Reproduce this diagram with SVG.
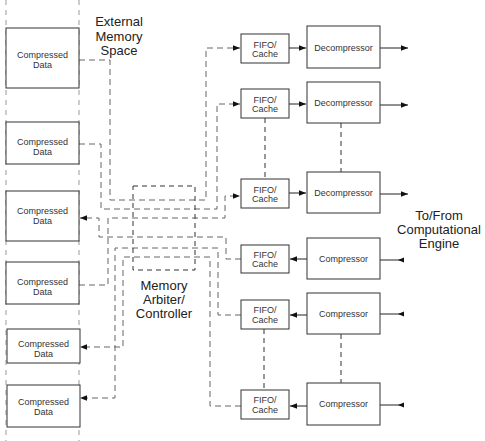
<svg xmlns="http://www.w3.org/2000/svg" width="485" height="441" viewBox="0 0 485 441">
<style>
.box{fill:#fff;stroke:#333;stroke-width:1}
.t{font-family:"Liberation Sans",Arial,sans-serif;font-size:9px;fill:#333;text-anchor:middle}
.big{font-family:"Liberation Sans",Arial,sans-serif;font-size:13px;fill:#222;text-anchor:middle}
.d{fill:none;stroke:#666;stroke-width:1;stroke-dasharray:6,4}
.dk{fill:none;stroke:#333;stroke-width:1;stroke-dasharray:5,4}
.dl{fill:none;stroke:#999;stroke-width:1;stroke-dasharray:5,5}
.s{fill:none;stroke:#222;stroke-width:1}
.ah{fill:#111}
</style>
<defs>
<marker id="arr" viewBox="0 0 10 10" refX="10" refY="5" markerWidth="7" markerHeight="7" markerUnits="userSpaceOnUse" orient="auto"><path d="M0,1 L10,5 L0,9 z" class="ah"/></marker>
</defs>
<g id="memory-column">
<line class="dl" x1="6" y1="0" x2="6" y2="441"/>
<line class="dl" x1="79" y1="0" x2="79" y2="441"/>
</g>
<g id="connectors">
<path class="d" d="M79,60 H110 V200 H206 V48 H240" marker-end="url(#arr)"/>
<path class="d" d="M79,144 H101 V209 H217 V104 H240" marker-end="url(#arr)"/>
<path class="d" d="M241,259 H226 V237 H99 V218 H80" marker-end="url(#arr)"/>
<path class="d" d="M79,285 H108 V218 H225 V196 H240" marker-end="url(#arr)"/>
<path class="d" d="M241,315 H218 V248 H115 V398 H80" marker-end="url(#arr)"/>
<path class="d" d="M241,406 H210 V257 H123 V347 H80" marker-end="url(#arr)"/>
<line class="dk" x1="265" y1="118" x2="265" y2="179"/>
<line class="dk" x1="341" y1="123" x2="341" y2="172"/>
<line class="dk" x1="264" y1="329" x2="264" y2="390"/>
<line class="dk" x1="341" y1="334" x2="341" y2="383"/>
<rect class="dk" x="133" y="186" width="62" height="84"/>
<line class="s" x1="289" y1="48" x2="306" y2="48" marker-end="url(#arr)"/>
<line class="s" x1="289" y1="104" x2="306" y2="104" marker-end="url(#arr)"/>
<line class="s" x1="289" y1="193" x2="306" y2="193" marker-end="url(#arr)"/>
<line class="s" x1="307" y1="259" x2="290" y2="259" marker-end="url(#arr)"/>
<line class="s" x1="307" y1="315" x2="290" y2="315" marker-end="url(#arr)"/>
<line class="s" x1="307" y1="406" x2="290" y2="406" marker-end="url(#arr)"/>
<line class="s" x1="380" y1="48" x2="408" y2="48" marker-end="url(#arr)"/>
<line class="s" x1="380" y1="105" x2="408" y2="105" marker-end="url(#arr)"/>
<line class="s" x1="380" y1="194" x2="408" y2="194" marker-end="url(#arr)"/>
<line class="s" x1="380" y1="260" x2="404" y2="260"/>
<line class="s" x1="380" y1="314" x2="404" y2="314"/>
<line class="s" x1="380" y1="405" x2="404" y2="405"/>
<path class="ah" d="M398,260 L404,257.5 L404,262.5 z"/>
<path class="ah" d="M398,314 L404,311.5 L404,316.5 z"/>
<path class="ah" d="M398,405 L404,402.5 L404,407.5 z"/>
</g>
<g id="cd1"><rect class="box" x="6" y="28" width="73" height="60"/><text class="t" x="42.5" y="58">Compressed</text><text class="t" x="42.5" y="68">Data</text></g>
<g id="cd2"><rect class="box" x="6" y="122" width="73" height="42"/><text class="t" x="42.5" y="145">Compressed</text><text class="t" x="42.5" y="155">Data</text></g>
<g id="cd3"><rect class="box" x="6" y="191" width="73" height="50"/><text class="t" x="42.5" y="214">Compressed</text><text class="t" x="42.5" y="224">Data</text></g>
<g id="cd4"><rect class="box" x="6" y="262" width="73" height="42"/><text class="t" x="42.5" y="285">Compressed</text><text class="t" x="42.5" y="295">Data</text></g>
<g id="cd5"><rect class="box" x="7" y="329" width="73" height="34"/><text class="t" x="43.5" y="347">Compressed</text><text class="t" x="43.5" y="357">Data</text></g>
<g id="cd6"><rect class="box" x="7" y="385" width="73" height="42"/><text class="t" x="43.5" y="405">Compressed</text><text class="t" x="43.5" y="415">Data</text></g>
<g id="ext-label"><text class="big" x="119" y="26">External</text><text class="big" x="119" y="41">Memory</text><text class="big" x="119" y="55">Space</text></g>
<g id="arbiter-label"><text class="big" x="164" y="290">Memory</text><text class="big" x="164" y="304">Arbiter/</text><text class="big" x="164" y="318">Controller</text></g>
<g id="engine-label"><text class="big" x="439" y="220">To/From</text><text class="big" x="439" y="234">Computational</text><text class="big" x="439" y="248">Engine</text></g>
<g id="fifo1"><rect class="box" x="241" y="34" width="48" height="29"/><text class="t" x="265" y="48">FIFO/</text><text class="t" x="265" y="57">Cache</text></g>
<g id="fifo2"><rect class="box" x="241" y="89" width="48" height="29"/><text class="t" x="265" y="103">FIFO/</text><text class="t" x="265" y="112">Cache</text></g>
<g id="fifo3"><rect class="box" x="241" y="179" width="48" height="29"/><text class="t" x="265" y="193">FIFO/</text><text class="t" x="265" y="202">Cache</text></g>
<g id="fifo4"><rect class="box" x="241" y="245" width="48" height="28"/><text class="t" x="265" y="258">FIFO/</text><text class="t" x="265" y="267">Cache</text></g>
<g id="fifo5"><rect class="box" x="241" y="300" width="48" height="29"/><text class="t" x="265" y="313">FIFO/</text><text class="t" x="265" y="323">Cache</text></g>
<g id="fifo6"><rect class="box" x="241" y="390" width="48" height="29"/><text class="t" x="265" y="403">FIFO/</text><text class="t" x="265" y="413">Cache</text></g>
<g id="dec1"><rect class="box" x="307" y="26" width="73" height="42"/><text class="t" x="343.5" y="51">Decompressor</text></g>
<g id="dec2"><rect class="box" x="307" y="82" width="73" height="41"/><text class="t" x="343.5" y="106">Decompressor</text></g>
<g id="dec3"><rect class="box" x="307" y="172" width="73" height="41"/><text class="t" x="343.5" y="196">Decompressor</text></g>
<g id="comp1"><rect class="box" x="307" y="238" width="73" height="41"/><text class="t" x="343.5" y="262">Compressor</text></g>
<g id="comp2"><rect class="box" x="307" y="293" width="73" height="41"/><text class="t" x="343.5" y="317">Compressor</text></g>
<g id="comp3"><rect class="box" x="307" y="383" width="73" height="42"/><text class="t" x="343.5" y="407">Compressor</text></g>
</svg>
